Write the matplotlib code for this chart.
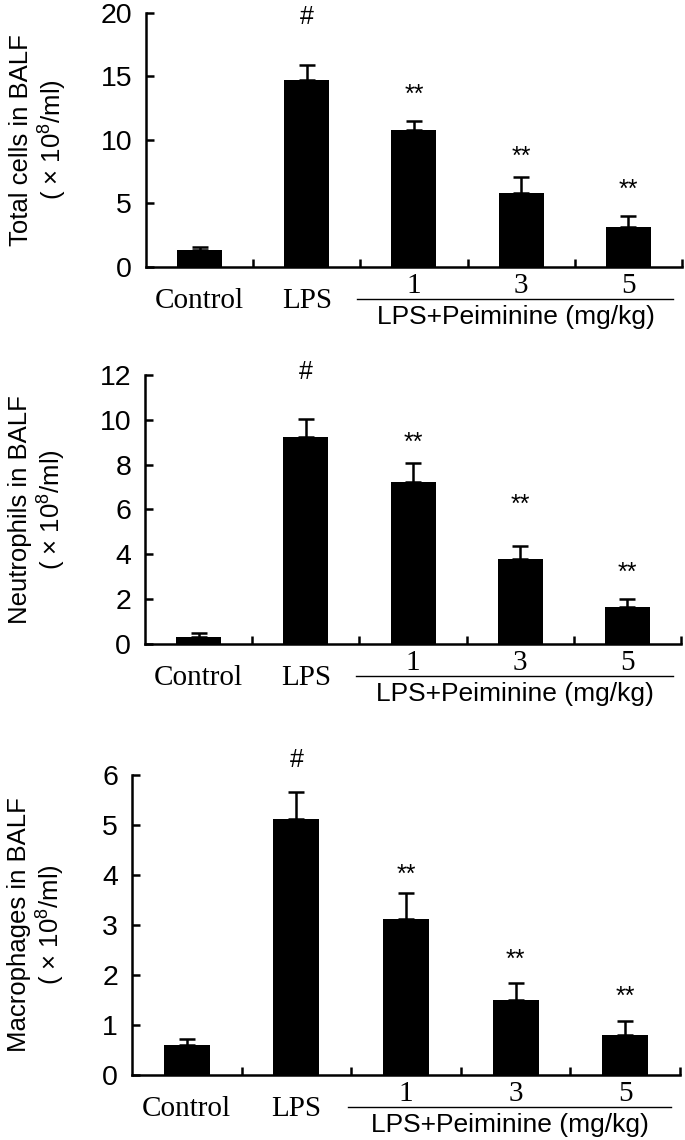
import matplotlib
matplotlib.use("Agg")
import matplotlib.pyplot as plt
from matplotlib.transforms import blended_transform_factory, offset_copy
import numpy as np

plt.rcParams['font.family'] = ['Liberation Sans', 'DejaVu Sans']
plt.rcParams['mathtext.fontset'] = 'custom'
plt.rcParams['mathtext.rm'] = 'Liberation Sans'
plt.rcParams['mathtext.it'] = 'Liberation Sans'

## DATOS

groups = ['Control', 'LPS', '1', '3', '5']
group_label = 'LPS+Peiminine (mg/kg)'
marks = ['', '#', '**', '**', '**']

total_mean = [1.35, 14.7, 10.8, 5.8, 3.15]
total_err = [0.2, 1.2, 0.7, 1.3, 0.85]

neut_mean = [0.31, 9.24, 7.23, 3.79, 1.64]
neut_err = [0.18, 0.8, 0.85, 0.58, 0.36]

macro_mean = [0.6, 5.12, 3.12, 1.5, 0.8]
macro_err = [0.12, 0.54, 0.52, 0.34, 0.28]

ylabels = ['Total cells in BALF', 'Neutrophils in BALF', 'Macrophages in BALF']
ymax = [20, 12, 6]
ystep = [5, 2, 1]

##################

## LAYOUT

# [left, bottom, width, height] en fraccion de figura
boxes = [[0.213, 0.7658, 0.7826, 0.2228],
         [0.2117, 0.4351, 0.7826, 0.2360],
         [0.1927, 0.0570, 0.8000, 0.2632]]
ylab_x = [-0.20, -0.20, -0.173]
# altura del centro de cada marca sobre la barra de error (px)
mark_off = [[0, 50, 33, 27, 33],
            [0, 49, 27, 48, 33],
            [0, 34, 25, 30, 31]]

fig = plt.figure(figsize=(6.85, 11.4), dpi=100)

panels = [(total_mean, total_err), (neut_mean, neut_err), (macro_mean, macro_err)]
x = np.arange(len(groups))

for p, (mean, err) in enumerate(panels):
    ax = fig.add_axes(boxes[p])
    ax.bar(x, mean, width=0.42, color='black', zorder=3)
    ax.errorbar(x, mean, yerr=[np.zeros(len(err)), err], fmt='none', ecolor='black',
                elinewidth=1.8, capsize=6, capthick=1.8, zorder=2)

    ax.set_xlim(-0.5, 4.5)
    ax.set_ylim(0, ymax[p])
    ax.set_yticks(np.arange(0, ymax[p] + 0.01, ystep[p]))
    ax.set_xticks(np.arange(0.5, 4.6, 1))
    ax.set_xticklabels([])
    ax.spines['top'].set_visible(False)
    ax.spines['right'].set_visible(False)
    for s in ['left', 'bottom']:
        ax.spines[s].set_linewidth(1.8)
    ax.tick_params(axis='both', direction='in', length=6, width=1.8, labelsize=20.5)
    ax.tick_params(axis='y', pad=10)

    ax.text(ylab_x[p], 0.5, ylabels[p] + '\n( \u00d7 10$^{8}$/ml)', rotation=90,
            ha='center', va='center', fontsize=18.5, linespacing=1.15,
            transform=ax.transAxes)

    # marcas de significacion
    for k in range(len(x)):
        if marks[k] == '':
            continue
        off = mark_off[p][k] - (9 if marks[k] == '#' else 14)
        ax.annotate(marks[k], xy=(x[k], mean[k] + err[k]), xytext=(0, off),
                    textcoords='offset pixels', ha='center', va='baseline',
                    fontsize=18, annotation_clip=False)

    # etiquetas de categorias
    for k in range(len(x)):
        if k < 2:
            dy = -34
        else:
            dy = -19
        ax.annotate(groups[k], xy=(x[k], 0), xycoords=('data', 'axes fraction'),
                    xytext=(0, dy), textcoords='offset pixels', ha='center',
                    va='center', fontsize=21, family='Liberation Serif')

    trans = offset_copy(blended_transform_factory(ax.transData, ax.transAxes),
                        fig=fig, y=-32, units='dots')
    ax.plot([1.47, 4.42], [0, 0], color='black', lw=1, transform=trans, clip_on=False)
    ax.annotate(group_label, xy=(2.95, 0), xycoords=('data', 'axes fraction'),
                xytext=(0, -50), textcoords='offset pixels', ha='center',
                va='center', fontsize=19)

fig.savefig('out.png', dpi=100)
